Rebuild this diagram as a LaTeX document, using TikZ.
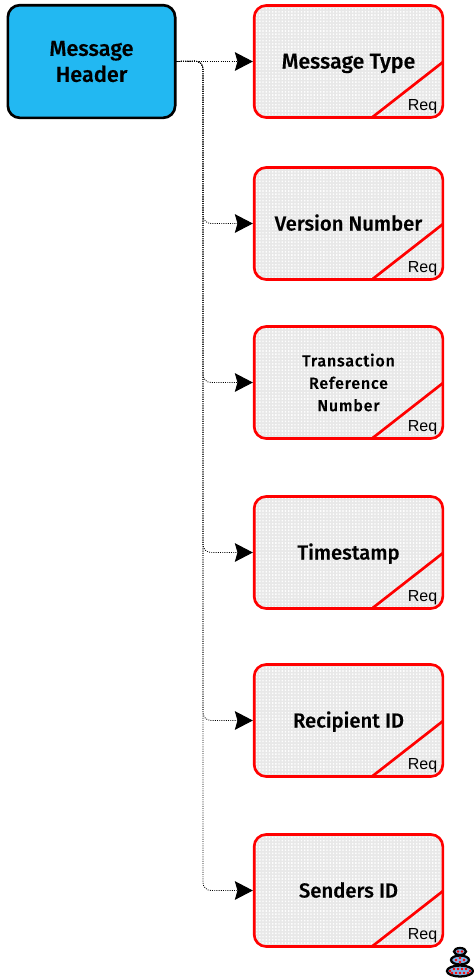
\documentclass[tikz,border=0pt]{standalone}
\usepackage{fontspec}
\setmainfont{Liberation Sans}
\newfontfamily\heavy[FakeBold=0.5]{Fira Sans Medium}
\newfontfamily\heavyspaced[FakeBold=0.4,LetterSpace=5]{Fira Sans Medium}
\usetikzlibrary{arrows.meta,patterns,calc}
\definecolor{hblue}{HTML}{22B8F2}
\definecolor{bfill}{HTML}{E8E8E8}
\definecolor{iblue}{HTML}{7FB2E8}
\pgfdeclarepatternformonly{finedots}{\pgfqpoint{-1pt}{-1pt}}{\pgfqpoint{1pt}{1pt}}{\pgfqpoint{2.4pt}{2.4pt}}{%
  \pgfpathrectangle{\pgfqpoint{0pt}{0pt}}{\pgfqpoint{1.2pt}{1.2pt}}%
  \pgfpathrectangle{\pgfqpoint{1.2pt}{1.2pt}}{\pgfqpoint{1.2pt}{1.2pt}}%
  \pgfusepath{fill}}
\tikzset{
  header/.style={draw=black,line width=2pt,rounded corners=9pt,fill=hblue,minimum width=125.5pt,minimum height=84.5pt,inner sep=0pt,align=center,font=\fontsize{16.3}{19.5}\selectfont\heavy},
  field/.style={draw=red,line width=2pt,rounded corners=9pt,minimum width=141.5pt,minimum height=84pt,inner sep=0pt,align=center,text=black},
  big/.style={font=\fontsize{15.2}{19}\selectfont\heavy,text height=14pt,text depth=3.5pt},
  bigger/.style={font=\fontsize{16}{19}\selectfont\heavy,text height=14pt,text depth=3.5pt},
  small/.style={font=\fontsize{12}{16.8}\selectfont\heavyspaced},
  conn/.style={densely dotted,line width=0.65pt,rounded corners=6pt,-{Stealth[length=13.5pt,width=14pt,inset=2pt]}},
  diag/.style={draw=red,line width=2pt},
  reqlabel/.style={inner sep=0pt,font=\fontsize{12}{14}\selectfont},
}
\begin{document}
\begin{tikzpicture}[x=0.75pt,y=-0.75pt]
\useasboundingbox (0,0) rectangle (474,979);
\newcommand{\fieldbox}[4]{%
  \fill[bfill,rounded corners=9pt] (254,#2) rectangle (443,#2+113);
  \fill[pattern=finedots,pattern color=white!92!bfill,rounded corners=9pt] (254,#2) rectangle (443,#2+113);
  \node[field,#4] (#1) at (348.5,#2+56.5) {#3};
  \draw[diag] (372,#2+112.5) -- (443,#2+57);
  \node[reqlabel] (#1r) at (422.5,#2+101.5) {Req};
}
\node[header] (h) at (91.5,61.5) {Message\\Header};
\fieldbox{a}{5}{Message Type}{bigger}
\fieldbox{b}{167}{Version Number}{big}
\fieldbox{c}{326}{Transaction\\Reference\\Number}{small}
\fieldbox{d}{496}{Timestamp}{big}
\fieldbox{e}{664}{Recipient ID}{big}
\fieldbox{f}{834}{Senders ID}{big}
\coordinate (bus) at (203,61);
\draw[conn] (h.east) -- (a.west);
\foreach \t in {b,c,d,e,f}{
  \draw[conn] (h.east) -- (bus) -- (bus |- \t.west) -- (\t.west);
}
% small icon
\foreach \cx/\cy/\rx/\ry in {460/971/13/5.5,460/960/9/4.5,460/951.5/6/3.5}{
  \filldraw[draw=black,line width=1.7pt,fill=iblue] (\cx,\cy) ellipse ({\rx*0.75pt} and {\ry*0.75pt});
}
\foreach \px/\py in {450/971,454/969,458/969,462/969,466/969,452/973,456/973,460/973,464/973,468/973,470/971,456/960,460/958,464/960,460/962,458/951.5,462/951.5}{
  \fill[red] (\px,\py) circle (1pt);
}
\end{tikzpicture}
\end{document}
